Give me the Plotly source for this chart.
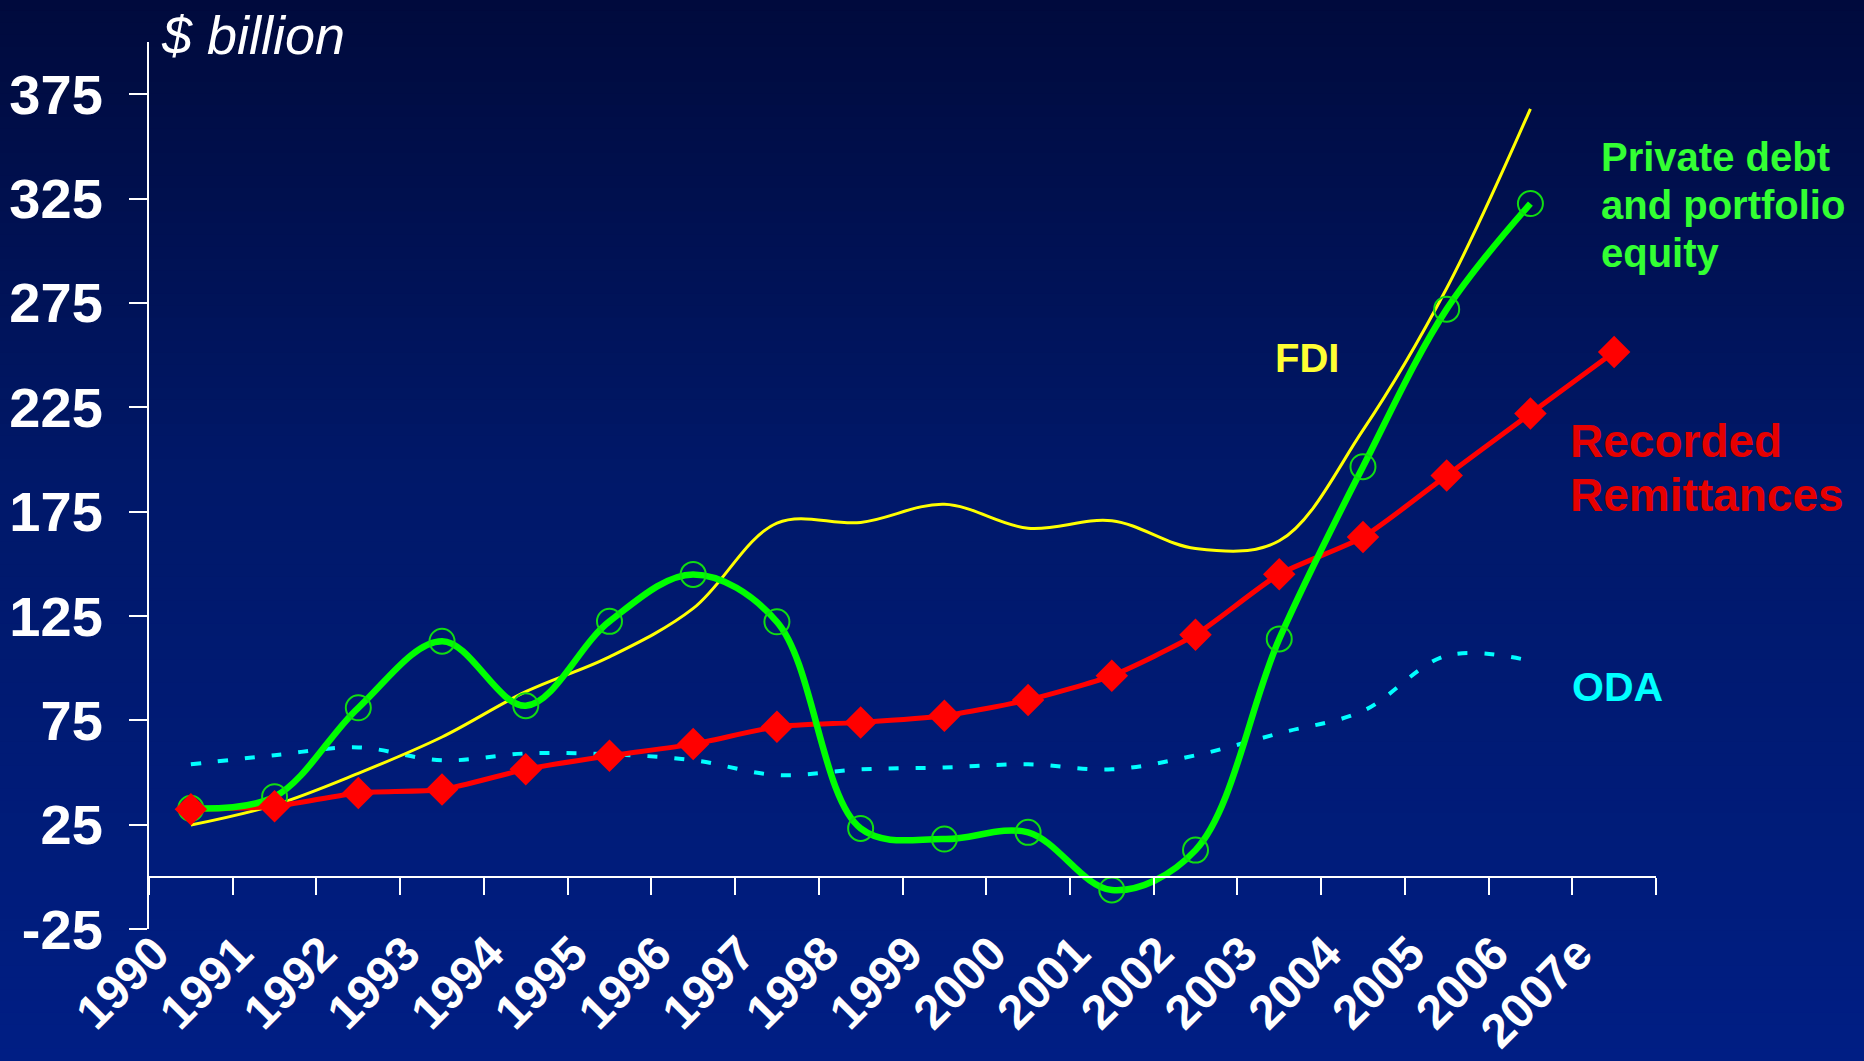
import plotly.graph_objects as go

# ── Data ($ billion) ──────────────────────────────────────────────────────────
YEARS = ["1990", "1991", "1992", "1993", "1994", "1995", "1996", "1997", "1998",
         "1999", "2000", "2001", "2002", "2003", "2004", "2005", "2006", "2007e"]

REMITTANCES = [32.4, 33.8, 40.2, 41.8, 51.5, 58.0, 63.6, 71.9, 74.0,
               77.2, 84.7, 96.4, 116.0, 145.0, 162.8, 192.3, 222.0, 251.5]
PRIVATE_DEBT_EQUITY = [32.8, 38.4, 81.0, 112.9, 82.0, 122.4, 144.9, 122.2, 23.2,
                       18.1, 21.3, -6.3, 12.8, 114.0, 196.5, 272.0, 322.6]
FDI = [24.8, 34.4, 49.6, 67.0, 88.7, 105.4, 128.6, 169.5, 169.8,
       178.5, 167.0, 170.6, 157.3, 161.0, 214.0, 282.0, 368.0]
ODA = [53.9, 58.3, 62.0, 55.8, 59.1, 58.7, 55.9, 48.8, 51.5,
       52.4, 53.9, 51.5, 58.2, 68.8, 79.5, 106.0, 103.5]

Y_TICKS = [-25, 25, 75, 125, 175, 225, 275, 325, 375]
Y_TICK_TEXT = ["-25", "25", "75", "125", "175", "225", "275", "325", "375"]

# ── Colours ───────────────────────────────────────────────────────────────────
WHITE = "#FFFFFF"
RED = "#FF0000"
RED_TXT = "#E60000"
GREEN = "#00FF00"
GREEN_MK = "#11DD11"
GREEN_TXT = "#33FF33"
YELLOW = "#FFFF00"
YELLOW_TXT = "#FFFF33"
CYAN = "#00FFFF"
FONT = "Liberation Sans, Arial, sans-serif"

W, H = 1864, 1061
M_L, M_R, M_T, M_B = 149, 208, 42, 132

fig = go.Figure()

fig.add_trace(go.Scatter(
    x=YEARS[:len(ODA)], y=ODA, name="ODA", mode="lines",
    line=dict(color=CYAN, width=4, dash="10px,17px", shape="spline"),
))
fig.add_trace(go.Scatter(
    x=YEARS[:len(FDI)], y=FDI, name="FDI", mode="lines",
    line=dict(color=YELLOW, width=3, shape="spline"),
))
fig.add_trace(go.Scatter(
    x=YEARS, y=REMITTANCES, name="Recorded Remittances", mode="lines",
    line=dict(color=RED, width=5, shape="spline", smoothing=0.6),
))
fig.add_trace(go.Scatter(
    x=YEARS[:len(PRIVATE_DEBT_EQUITY)], y=PRIVATE_DEBT_EQUITY,
    name="Private debt and portfolio equity", mode="lines+markers",
    line=dict(color=GREEN, width=6.5, shape="spline"),
    marker=dict(symbol="circle-open", size=25, color=GREEN_MK,
                line=dict(width=2, color=GREEN_MK)),
))
# remittance diamonds sit on top of everything
fig.add_trace(go.Scatter(
    x=YEARS, y=REMITTANCES, name="Recorded Remittances", mode="markers",
    marker=dict(symbol="diamond", size=25, color=RED),
))

# ── Background gradient (dark navy at top, brighter blue at bottom) ──────────
pw, ph = W - M_L - M_R, H - M_T - M_B
stops = [(0.0, (0, 10, 60)), (0.45, (0, 24, 105)), (1.0, (0, 30, 132))]


def grad(t):
    for (t0, c0), (t1, c1) in zip(stops[:-1], stops[1:]):
        if t <= t1:
            f = (t - t0) / (t1 - t0)
            return "rgb(%d,%d,%d)" % tuple(round(a + (b - a) * f) for a, b in zip(c0, c1))
    return "rgb(%d,%d,%d)" % stops[-1][1]


shapes = []
n = 90
for i in range(n):
    top_px = H * i / n - 1
    bot_px = H * (i + 1) / n + 1
    shapes.append(dict(
        type="rect", xref="paper", yref="paper", layer="below",
        x0=-M_L / pw - 0.01, x1=(W - M_L) / pw + 0.01,
        y0=(H - M_B - bot_px) / ph, y1=(H - M_B - top_px) / ph,
        fillcolor=grad((i + 0.5) / n), line=dict(width=0),
    ))


def xp(px):
    return (px - M_L) / pw


def yp(py):
    return (H - M_B - py) / ph


labels = [
    ("Private debt", GREEN_TXT, 40, 1599, 157),
    ("and portfolio", GREEN_TXT, 40, 1599, 205),
    ("equity", GREEN_TXT, 40, 1599, 253),
    ("FDI", YELLOW_TXT, 40, 1273, 358),
    ("Recorded", RED_TXT, 46, 1568, 441),
    ("Remittances", RED_TXT, 46, 1568, 495),
    ("ODA", CYAN, 41, 1570, 687),
]
annotations = [
    dict(text=t, x=xp(px), y=yp(py), xref="paper", yref="paper",
         xanchor="left", yanchor="middle", showarrow=False,
         font=dict(family=FONT, size=s, color=c, weight="bold"))
    for t, c, s, px, py in labels
]
annotations.append(dict(
    text="$ billion", x=xp(159), y=yp(35), xref="paper", yref="paper",
    xanchor="left", yanchor="middle", showarrow=False,
    font=dict(family=FONT, size=54, color=WHITE, style="italic"),
))

fig.update_layout(
    width=W, height=H,
    margin=dict(l=M_L, r=M_R, t=M_T, b=M_B, autoexpand=False),
    paper_bgcolor="rgb(0,30,132)",
    plot_bgcolor="rgba(0,0,0,0)",
    showlegend=False,
    shapes=shapes,
    annotations=annotations,
    font=dict(family=FONT, color=WHITE),
    xaxis=dict(
        type="category", categoryorder="array", categoryarray=YEARS,
        range=[-0.5, len(YEARS) - 0.5],
        anchor="free", position=25 / 425, automargin=False,
        tickson="boundaries", ticks="outside", ticklen=17, tickwidth=2,
        tickcolor=WHITE, showline=True, linecolor=WHITE, linewidth=2,
        showgrid=False, zeroline=False,
        tickangle=-45, ticklabelstandoff=28, ticklabelshift=-36,
        tickfont=dict(family=FONT, size=48, color=WHITE, weight="bold"),
    ),
    yaxis=dict(
        range=[-25, 400], tickvals=Y_TICKS, ticktext=Y_TICK_TEXT, automargin=False,
        ticks="outside", ticklen=18, tickwidth=2, tickcolor=WHITE,
        showline=True, linecolor=WHITE, linewidth=2,
        showgrid=False, zeroline=False,
        ticklabelstandoff=15,
        tickfont=dict(family=FONT, size=56, color=WHITE, weight="bold"),
    ),
)

fig.write_html(
    "out.html",
    config={"displayModeBar": False},
    post_script="document.body.style.margin='0';"
                "document.body.style.background='rgb(0,30,132)';",
)
